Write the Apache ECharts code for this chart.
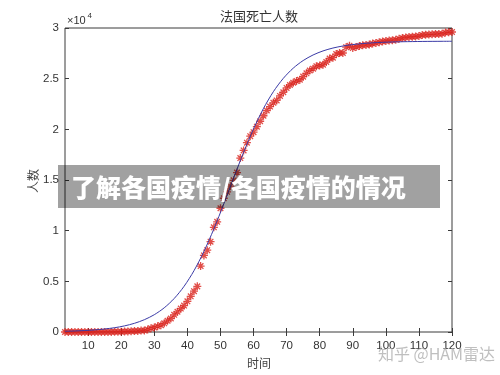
<!DOCTYPE html>
<html><head><meta charset="utf-8">
<script src="https://cdn.jsdelivr.net/npm/echarts@6/dist/echarts.min.js"></script>
<style>html,body{margin:0;padding:0;background:#fff}#c{width:500px;height:375px}</style>
</head><body><div id="c"></div>
<script>
// observed cumulative deaths (persons), one per day
const days = [3,4,5,6,7,8,9,10,11,12,13,14,15,16,17,18,19,20,21,22,23,24,25,26,27,28,29,30,31,32,33,34,35,36,37,38,39,40,41,42,43,44,45,46,47,48,49,50,51,52,53,54,55,56,57,58,59,60,61,62,63,64,65,66,67,68,69,70,71,72,73,74,75,76,77,78,79,80,81,82,83,84,85,86,87,88,89,90,91,92,93,94,95,96,97,98,99,100,101,102,103,104,105,106,107,108,109,110,111,112,113,114,115,116,117,118,119,120];
const deaths = [1,1,1,1,2,2,2,2,2,3,4,4,6,9,11,19,19,33,48,48,79,91,91,148,148,244,372,450,562,674,860,1100,1331,1696,1995,2314,2606,3024,3523,4032,4503,6507,7560,8078,8911,10328,10869,12210,13197,13832,14393,14967,15729,17167,17920,18681,19323,19718,20265,20796,21340,21856,22245,22614,22856,23293,23660,24087,24376,24594,24760,24895,25201,25531,25809,25987,26230,26310,26380,26643,26991,27074,27425,27529,27532,28108,28239,28022,28132,28215,28289,28332,28367,28460,28530,28599,28665,28717,28774,28802,28836,28940,29024,29068,29114,29145,29158,29212,29299,29323,29349,29377,29401,29411,29439,29550,29578,29606];
// fitted curve (persons)
const fitDays = [3,6,9,12,15,18,21,24,27,30,33,36,39,42,45,48,51,54,57,60,63,66,69,72,75,78,81,84,87,90,93,96,99,102,105,108,111,114,117,120];
const fitValues = [71,102,146,208,297,424,604,858,1214,1708,2387,3302,4509,6051,7946,10170,12637,15209,17733,20046,22056,23717,25031,26037,26788,27338,27737,28022,28223,28365,28466,28536,28586,28620,28644,28661,28673,28681,28687,28691];
const xTicks = [10,20,30,40,50,60,70,80,90,100,110,120];
const titleText = '法国死亡人数';
const xName = '时间';
const yName = '人数';
const bannerText = '了解各国疫情/各国疫情的情况';
const watermark = '知乎 @HAM雷达';

const AX = '#3a3a3a';
const LBL = '#333';
const chart = echarts.init(document.getElementById('c'), null, {renderer: 'canvas'});
const starPath = 'path://M0,5L10,5M5,0L5,10M1.5,1.5L8.5,8.5M8.5,1.5L1.5,8.5';
const tickCommon = {show: true, inside: true, length: 4, lineStyle: {color: AX, width: 1}};
function txt(x, y, text, font, fill, align, extra) {
  return Object.assign({type: 'text', x: x, y: y, z: 100, style: {
    text: text, font: font, fill: fill, align: align || 'center', textAlign: align || 'center',
    verticalAlign: 'middle', textVerticalAlign: 'middle'}}, extra || {});
}
chart.setOption({
  animation: false,
  backgroundColor: '#fff',
  grid: {left: 65, top: 28, width: 387, height: 304, show: true, borderColor: AX, borderWidth: 1, backgroundColor: 'transparent'},
  xAxis: [
    {type: 'value', min: 3, max: 120, position: 'bottom', axisLine: {show: false}, splitLine: {show: false},
     axisTick: Object.assign({customValues: xTicks}, tickCommon),
     axisLabel: {customValues: xTicks, margin: 8, color: LBL, fontSize: 11.5, fontFamily: 'Liberation Sans'}},
    {type: 'value', min: 3, max: 120, position: 'top', axisLine: {show: false}, splitLine: {show: false},
     axisTick: Object.assign({customValues: xTicks}, tickCommon), axisLabel: {show: false}}
  ],
  yAxis: [
    {type: 'value', min: 0, max: 30000, interval: 5000, position: 'left', axisLine: {show: false}, splitLine: {show: false},
     axisTick: tickCommon,
     axisLabel: {margin: 6, color: LBL, fontSize: 11.5, fontFamily: 'Liberation Sans', formatter: v => String(v / 10000)}},
    {type: 'value', min: 0, max: 30000, interval: 5000, position: 'right', axisLine: {show: false}, splitLine: {show: false},
     axisTick: tickCommon, axisLabel: {show: false}}
  ],
  series: [
    {type: 'scatter', data: days.map((d, i) => [d, deaths[i]]), symbol: starPath, symbolSize: 8,
     itemStyle: {color: 'rgba(0,0,0,0)', borderColor: '#d9221c', borderWidth: 1.3}, z: 2, silent: true},
    {type: 'line', data: fitDays.map((d, i) => [d, fitValues[i]]), showSymbol: false, smooth: 0.3,
     lineStyle: {color: '#3a3aa6', width: 1}, z: 3, silent: true}
  ],
  graphic: [
    txt(259, 16.5, titleText, '13px "Noto Sans CJK SC"', '#333'),
    txt(67, 21, '×10', '11px "Liberation Sans"', LBL, 'left'),
    txt(87.5, 16, '4', '8px "Liberation Sans"', LBL, 'left'),
    txt(259, 363, xName, '12px "Noto Sans CJK SC"', '#444'),
    txt(33, 181, yName, '12px "Noto Sans CJK SC"', '#444', 'center', {rotation: Math.PI / 2}),
    {type: 'rect', z: 90, shape: {x: 58, y: 165, width: 382, height: 43}, style: {fill: 'rgba(0,0,0,0.37)'}},
    txt(71, 187, bannerText, '900 25px "Noto Sans CJK SC"', '#fff', 'left'),
    txt(378, 354, watermark, '16px "Noto Sans CJK SC"', 'rgba(170,170,170,0.75)', 'left')
  ]
});
</script>
</body></html>
